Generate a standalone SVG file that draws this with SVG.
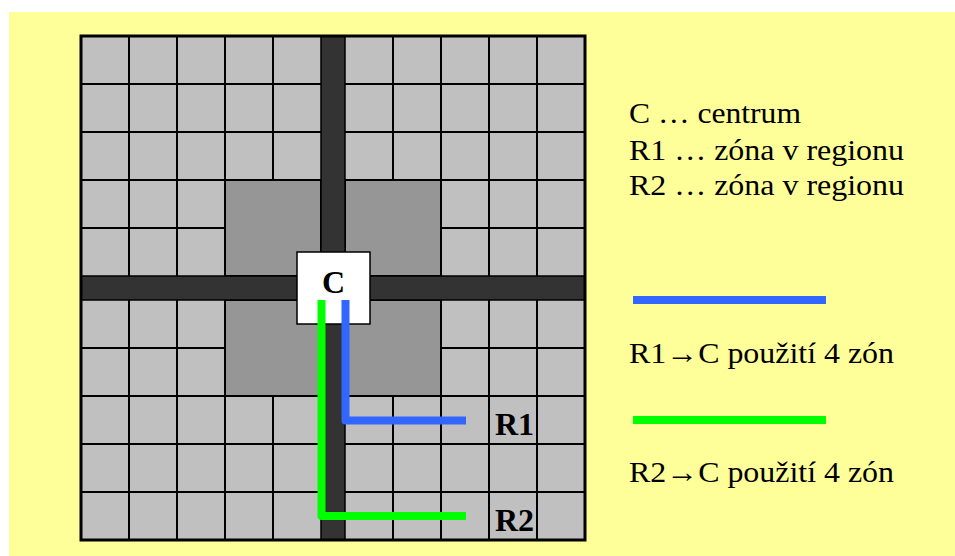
<svg xmlns="http://www.w3.org/2000/svg" width="955" height="556" viewBox="0 0 955 556">
<style>
.grid{stroke:#000;stroke-width:2;fill:none}
.road{fill:#333333;stroke:#000;stroke-width:1.5}
.zone{fill:#969696;stroke:#000;stroke-width:2}
.lbl{font-family:"Liberation Serif",serif;font-size:30px;fill:#000}
.bold{font-family:"Liberation Serif",serif;font-size:32px;font-weight:bold;fill:#000}
.route{fill:none;stroke-width:8;stroke-linejoin:round;stroke-linecap:butt}
</style>
<rect x="9" y="12" width="946" height="544" fill="#FFFF99"/>
<g id="city">
<rect x="81" y="36" width="504" height="504" fill="#C0C0C0"/>
<rect class="zone" x="225" y="180" width="96" height="96"/>
<rect class="zone" x="345" y="180" width="96" height="96"/>
<rect class="zone" x="225" y="300" width="96" height="96"/>
<rect class="zone" x="345" y="300" width="96" height="96"/>
<path class="grid" d="M129,36V540M177,36V540M225,36V540M441,36V540M489,36V540M537,36V540M273,36V180M273,396V540M393,36V180M393,396V540M81,84H585M81,132H585M81,180H585M81,396H585M81,444H585M81,492H585M81,228H225M441,228H585M81,348H225M441,348H585"/>
<rect class="road" x="81" y="276" width="504" height="24"/>
<rect class="road" x="321" y="36" width="24" height="504"/>
<rect x="81" y="36" width="504" height="504" fill="none" stroke="#000" stroke-width="3"/>
</g>
<g id="C">
<rect x="297" y="252" width="73" height="72" fill="#FFFFFF" stroke="#000" stroke-width="1.5"/>
<text class="bold" x="333.5" y="293" text-anchor="middle" font-family="Liberation Serif">C</text>
</g>
<g id="connectors">
<path class="route" stroke="#3366FF" d="M345.5,300V420.5H466"/>
<path class="route" stroke="#00FF00" d="M321.5,300V516H466"/>
</g>
<g id="R1">
<text class="bold" x="495" y="435" font-family="Liberation Serif">R1</text>
</g>
<g id="R2">
<text class="bold" x="495" y="531" font-family="Liberation Serif">R2</text>
</g>
<g id="legend">
<text class="lbl" x="629" y="123" textLength="172" lengthAdjust="spacingAndGlyphs">C … centrum</text>
<text class="lbl" x="629" y="160" textLength="275" lengthAdjust="spacingAndGlyphs">R1 … zóna v regionu</text>
<text class="lbl" x="629" y="195" textLength="275" lengthAdjust="spacingAndGlyphs">R2 … zóna v regionu</text>
<line x1="633" y1="300" x2="826" y2="300" stroke="#3366FF" stroke-width="8"/>
<text class="lbl" x="629" y="363" textLength="265" lengthAdjust="spacingAndGlyphs">R1→C použití 4 zón</text>
<line x1="633" y1="420" x2="826" y2="420" stroke="#00FF00" stroke-width="8"/>
<text class="lbl" x="629" y="482" textLength="265" lengthAdjust="spacingAndGlyphs">R2→C použití 4 zón</text>
</g>
</svg>
